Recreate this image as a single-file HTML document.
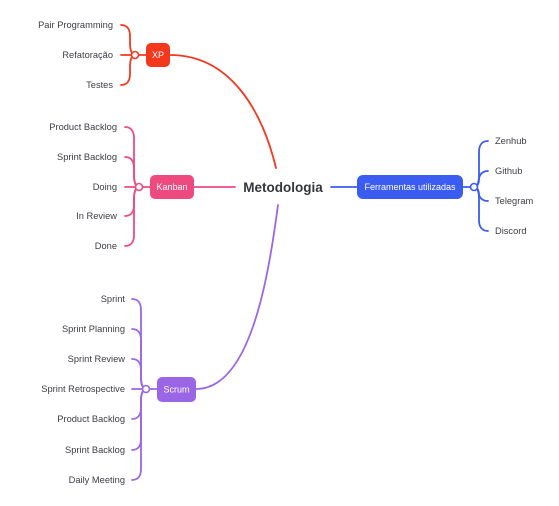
<!DOCTYPE html>
<html><head><meta charset="utf-8"><style>
html,body{margin:0;padding:0;background:#fff;}
svg{display:block;font-family:"Liberation Sans",sans-serif;}
.l{font-size:9.3px;fill:#3d3d45;}
.b{font-size:9px;fill:#fff;}
</style></head><body>
<svg width="559" height="506" viewBox="0 0 559 506">
<g fill="none" stroke-width="1.8" stroke-linecap="round">
<g stroke="#f4381e">
<path d="M170,55 C230,55 262,110 276,168"/>
<path d="M135,55 H146"/>
<path d="M135,55 C131,55 130,48 130,44 L130,36 C130,29 127,25 121,25"/>
<path d="M135,55 H121"/>
<path d="M135,55 C131,55 130,62 130,66 L130,74 C130,81 127,85 121,85"/>
</g>
<g stroke="#ef4a7f">
<path d="M194,187 H235"/>
<path d="M139,187 H150"/>
<path d="M139,187 C135,187 134,180 134,176 L134,138 C134,131 131,127 125,127"/>
<path d="M139,187 C135,187 134,180 134,176 L134,168 C134,161 131,157 125,157"/>
<path d="M139,187 H125"/>
<path d="M139,187 C135,187 134,194 134,198 L134,205 C134,212 131,216 125,216"/>
<path d="M139,187 C135,187 134,194 134,198 L134,235 C134,242 131,246 125,246"/>
</g>
<g stroke="#9b66e6">
<path d="M196,389 C250,389 268,280 278,205"/>
<path d="M146,389 H157"/>
<path d="M146,389 C142,389 141,382 141,378 L141,310 C141,303 138,299 132,299"/>
<path d="M146,389 C142,389 141,382 141,378 L141,340 C141,333 138,329 132,329"/>
<path d="M146,389 C142,389 141,382 141,378 L141,370 C141,363 138,359 132,359"/>
<path d="M146,389 H132"/>
<path d="M146,389 C142,389 141,396 141,400 L141,408 C141,415 138,419 132,419"/>
<path d="M146,389 C142,389 141,396 141,400 L141,439 C141,446 138,450 132,450"/>
<path d="M146,389 C142,389 141,396 141,400 L141,469 C141,476 138,480 132,480"/>
</g>
<g stroke="#3b5cf0">
<path d="M331,187 H357"/>
<path d="M463,187 H474"/>
<path d="M474,187 C478,187 479,180 479,176 L479,152 C479,145 482,141 488,141"/>
<path d="M474,187 C478,187 479,182 479,180 C479,175 482,171 488,171"/>
<path d="M474,187 C478,187 479,192 479,194 C479,197 482,201 488,201"/>
<path d="M474,187 C478,187 479,194 479,198 L479,220 C479,227 482,231 488,231"/>
</g>
</g>
<rect x="146" y="43" width="24" height="24" rx="5" fill="#f4381e"/>
<text class="b" x="158" y="58" text-anchor="middle">XP</text>
<rect x="150" y="175" width="44" height="24" rx="5" fill="#ef4a7f"/>
<text class="b" x="172" y="190" text-anchor="middle">Kanban</text>
<rect x="157" y="377" width="39" height="25" rx="5" fill="#9b66e6"/>
<text class="b" x="176.5" y="392.5" text-anchor="middle">Scrum</text>
<rect x="357" y="175" width="106" height="24" rx="6" fill="#3b5cf0"/>
<text class="b" x="410" y="190" text-anchor="middle">Ferramentas utilizadas</text>
<circle cx="135" cy="55" r="3.5" fill="#fff" stroke="#f4381e" stroke-width="1.6"/>
<circle cx="139" cy="187" r="3.5" fill="#fff" stroke="#ef4a7f" stroke-width="1.6"/>
<circle cx="146" cy="389" r="3.5" fill="#fff" stroke="#9b66e6" stroke-width="1.6"/>
<circle cx="474" cy="187" r="3.5" fill="#fff" stroke="#3b5cf0" stroke-width="1.6"/>
<text x="283" y="192" text-anchor="middle" style="font-size:13.5px;font-weight:bold;fill:#33363d">Metodologia</text>
<g class="l" text-anchor="end">
<text x="113" y="28">Pair Programming</text>
<text x="113" y="58">Refatoração</text>
<text x="113" y="88">Testes</text>
<text x="117" y="130">Product Backlog</text>
<text x="117" y="160">Sprint Backlog</text>
<text x="117" y="190">Doing</text>
<text x="117" y="219">In Review</text>
<text x="117" y="249">Done</text>
<text x="125" y="302">Sprint</text>
<text x="125" y="332">Sprint Planning</text>
<text x="125" y="362">Sprint Review</text>
<text x="125" y="392">Sprint Retrospective</text>
<text x="125" y="422">Product Backlog</text>
<text x="125" y="453">Sprint Backlog</text>
<text x="125" y="483">Daily Meeting</text>
</g>
<g class="l">
<text x="495" y="144">Zenhub</text>
<text x="495" y="174">Github</text>
<text x="495" y="204">Telegram</text>
<text x="495" y="234">Discord</text>
</g>
</svg>
</body></html>
